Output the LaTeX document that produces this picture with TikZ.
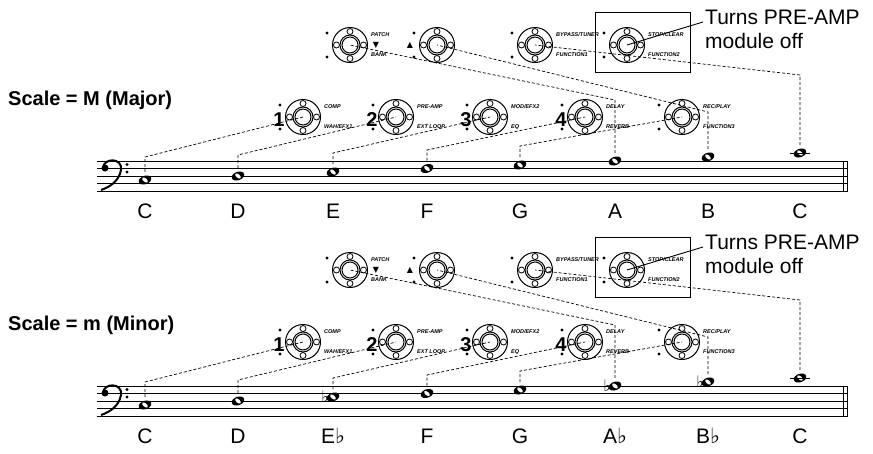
\documentclass[tikz,border=0pt]{standalone}
\usepackage{fontspec}
\setmainfont{Liberation Sans}
\newfontfamily\symfont{DejaVu Sans}
\usetikzlibrary{positioning, calc}

\tikzset{
    link/.style={densely dashed, line width=0.7pt},
    pedtext/.style={font=\fontsize{5.5}{6}\selectfont\bfseries\itshape, anchor=west, inner sep=0pt},
    notename/.style={font=\fontsize{21}{22}\selectfont},
    numlabel/.style={font=\fontsize{20}{20}\selectfont\bfseries, inner sep=0pt}
}

% pedal: name, x, y, upper label, lower label
\newcommand{\pedal}[5]{
    \coordinate (#1) at (#2,#3);
    \draw[line width=1pt] (#1) circle (17.5) circle (10) circle (8);
    \foreach \a in {0,90,180,270}
        \draw[line width=0.8pt, fill=white] (#1) ++(\a:13.5) circle (3);
    \fill (#1) ++(-23,12) circle (1.6);
    \fill (#1) ++(-23,-12) circle (1.6);
    \node[pedtext] at ($(#1)+(21,-10)$) {#4};
    \node[pedtext] at ($(#1)+(21,10)$) {#5};
}
% whole note: name, x, y, flat
\newcommand{\wnote}[4]{
    \coordinate (#1) at (#2,#3);
    \fill[rotate around={20:(#1)}] (#1) ellipse (6.5 and 4.2);
    \fill[white, rotate around={-40:(#1)}] (#1) ellipse (3.4 and 1.8);
    \node[font=\symfont\fontsize{16}{16}\selectfont, left=4pt of #1, inner sep=0pt] {#4};
}

\begin{document}
\begin{tikzpicture}[x=1pt, y=-1pt]
\useasboundingbox (0,0) rectangle (873,453);

\foreach \off/\ttl/\fl/\sc in {0/M (Major)/{}/maj, 225/m (Minor)/{\symfont ♭}/min} {
\begin{scope}[yshift=-\off pt]
    % title
    \node[font=\fontsize{20}{22}\selectfont\bfseries, anchor=west, inner sep=0pt] (title\sc) at (8,100) {Scale = \ttl};

    % top pedal row
    \pedal{pdn}{350}{45}{PATCH}{BANK}
    \node[font=\symfont\fontsize{8}{8}\selectfont] at (376,45) {▼};
    \pedal{pup}{437}{45}{}{}
    \node[font=\symfont\fontsize{8}{8}\selectfont] at (410,45) {▲};
    \pedal{pbyp}{535}{45}{BYPASS/TUNER}{FUNCTION1}
    \pedal{pstop}{627}{45}{STOP/CLEAR}{FUNCTION2}
    \draw[line width=1pt] (595,12) rectangle (690,72);
    \node[font=\fontsize{21}{24}\selectfont, align=left, anchor=north west, inner sep=0pt] (note\sc) at (705,10) {Turns PRE-AMP\\module off};
    \draw[line width=0.9pt] (pstop) -- (703,22);

    % bottom pedal row
    \pedal{pa}{303}{117}{COMP}{WAH/EFX1}
    \pedal{pb}{396}{117}{PRE-AMP}{EXT LOOP}
    \pedal{pc}{490}{117}{MOD/EFX2}{EQ}
    \pedal{pd}{585}{117}{DELAY}{REVERB}
    \pedal{pe}{682}{117}{REC/PLAY}{FUNCTION3}
    \node[numlabel] at (279,120) {1};
    \node[numlabel] at (372,120) {2};
    \node[numlabel] at (466,120) {3};
    \node[numlabel] at (561,120) {4};

    % staff
    \foreach \y in {161,168.5,176,183.5,191}
        \draw[line width=0.9pt] (97,\y) -- (848,\y);
    \draw[line width=0.9pt] (843,161) -- (843,191);
    \draw[line width=1.8pt] (847.5,161) -- (847.5,191);
    % bass clef
    \fill (105,168) circle (3.5);
    \draw[line width=2pt] (103,168) .. controls (104,157) and (123,158) .. (121,170) .. controls (119,181) and (110,187) .. (101,190);
    \fill (127,164.5) circle (1.6);
    \fill (127,172) circle (1.6);

    % notes
    \wnote{nc}{145}{180}{}
    \wnote{nd}{238}{176}{}
    \wnote{ne}{333}{172}{\fl}
    \wnote{nf}{427}{168.5}{}
    \wnote{ng}{520}{165}{}
    \wnote{na}{615}{161}{\fl}
    \wnote{nb}{708}{157}{\fl}
    \wnote{nh}{800}{153}{}
    \draw[line width=0.9pt] (790,153) -- (810,153);

    \node[notename] (labC\sc) at (145,211) {C};
    \node[notename] (labD\sc) at (238,211) {D};
    \node[notename] (labE\sc) at (333,211) {E\fl};
    \node[notename] (labF\sc) at (427,211) {F};
    \node[notename] (labG\sc) at (520,211) {G};
    \node[notename] (labA\sc) at (615,211) {A\fl};
    \node[notename] (labB\sc) at (708,211) {B\fl};
    \node[notename] (labH\sc) at (800,211) {C};

    % connectors
    \draw[link] (nc) ++(0,-8) -- (145,157) -- (pa);
    \draw[link] (nd) ++(0,-8) -- (238,155) -- (pb);
    \draw[link] (ne) ++(0,-8) -- (333,153) -- (pc);
    \draw[link] (nf) ++(0,-8) -- (427,150) -- (pd);
    \draw[link] (ng) ++(0,-8) -- (520,146) -- (pe);
    \draw[link] (na) ++(0,-8) -- (615,100) -- (pdn);
    \draw[link] (nb) ++(0,-8) -- (708,112) -- (pup);
    \draw[link] (nh) ++(0,-8) -- (800,75) -- (pbyp);
\end{scope}
}
\end{tikzpicture}
\end{document}
